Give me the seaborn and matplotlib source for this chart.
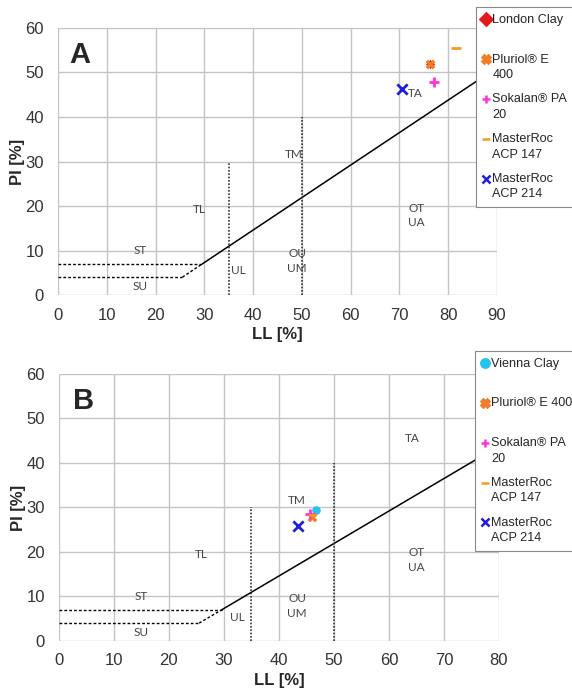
"""
Plasticity chart (Casagrande) - panels A (London Clay) and B (Vienna Clay)
"""

import matplotlib
matplotlib.use("Agg")
import matplotlib.pyplot as plt
import numpy as np
import pandas as pd
import seaborn as sns
from matplotlib.legend_handler import HandlerLine2D

# Panel A: London Clay + conditioners
A_LABELS = ["London Clay", "Pluriol® E\n400", "Sokalan® PA\n20", "MasterRoc\nACP 147", "MasterRoc\nACP 214"]
A_LL = [76.2, 76.3, 77.0, 81.5, 70.6]
A_PI = [52.0, 52.0, 47.9, 55.6, 46.3]

# Panel B: Vienna Clay + conditioners
B_LABELS = ["Vienna Clay", "Pluriol® E 400", "Sokalan® PA\n20", "MasterRoc\nACP 147", "MasterRoc\nACP 214"]
B_LL = [46.7, 46.0, 45.6, 46.0, 43.5]
B_PI = [29.4, 27.9, 28.5, 28.2, 25.8]

A_MARKERS = ["D", "X", "+", "_", "x"]
B_MARKERS = ["o", "X", "+", "_", "x"]
A_COLORS = ["#e31a1c", "#f07d28", "#ff33dd", "#f59a22", "#1f1fd8"]
B_COLORS = ["#22c4ee", "#f07d28", "#ff33dd", "#f59a22", "#1f1fd8"]
A_SIZES = [22, 50, 55, 60, 55]
B_SIZES = [38, 50, 55, 40, 55]

# boundary lines of the chart (ST/SU limits, LL limits)
HOR_PI = [7, 4]
HOR_LL_END = [29.6, 25.5]
VERT_LL = [35, 50]
VERT_PI_TOP = [30, 40]

# zone labels (LL, PI) per panel
ZONES = ["ST", "SU", "TL", "UL", "OU\nUM", "TM", "OT\nUA", "TA"]
A_ZONE_LL = [16.8, 16.8, 29.0, 37.0, 49.0, 48.3, 73.5, 73.3]
A_ZONE_PI = [10.1, 2.0, 19.3, 5.4, 7.6, 31.5, 17.9, 45.2]
B_ZONE_LL = [14.9, 14.9, 25.8, 32.4, 43.3, 43.3, 65.0, 64.2]
B_ZONE_PI = [9.9, 1.8, 19.5, 5.2, 7.9, 31.5, 18.2, 45.4]

LEG_FONT = 9.1


class FirstRowHandler(HandlerLine2D):
    """Puts the legend marker on the first row of a two-row label."""

    def create_artists(self, *args, **kwargs):
        artists = super().create_artists(*args, **kwargs)
        for a in artists:
            a.set_ydata(np.asarray(a.get_ydata()) + 0.66 * LEG_FONT)
        return artists


def a_line(ll):
    return 0.73 * (ll - 20)


def draw_panel(ax, fig, letter, labels, ll, pi, markers, colors, sizes, xmax, zone_ll, zone_pi, leg_box):
    df = pd.DataFrame({"LL": ll, "PI": pi, "Material": labels})

    # chart boundaries
    ax.plot([29.6, xmax], [a_line(29.6), a_line(xmax)], color="black", lw=1.1, zorder=2)
    ax.plot([25.5, 29.6], [a_line(25.5), a_line(29.6)], color="black", lw=1.0, ls=(0, (2, 1.5)), zorder=2)
    for y, x_end in zip(HOR_PI, HOR_LL_END):
        ax.plot([0, x_end], [y, y], color="black", lw=1.0, ls=(0, (2, 1.5)), zorder=2)
    for x, y_top in zip(VERT_LL, VERT_PI_TOP):
        ax.plot([x, x], [0, y_top], color="#333333", lw=1.2, ls=(0, (1, 1)), zorder=2)

    for z, zx, zy in zip(ZONES, zone_ll, zone_pi):
        ax.text(zx, zy, z, fontsize=8.5, family="Lato", color="#444444", ha="center",
                va="center", linespacing=1.4, zorder=3)

    # one call per material: filled and line markers can't share a style mapping
    for lab, m, c, s in zip(labels, markers, colors, sizes):
        sub = df[df["Material"] == lab]
        sns.scatterplot(data=sub, x="LL", y="PI", marker=m, color=c, s=s,
                        linewidth=2 if m in "+x_" else 0, edgecolor=c, ax=ax,
                        legend=False, zorder=4)

    ax.set_xlim(0, xmax)
    ax.set_ylim(0, 60)
    ax.set_xticks(range(0, xmax + 1, 10))
    ax.set_yticks(range(0, 61, 10))
    ax.grid(True, color="#c4c4c4", lw=1.0)
    ax.set_axisbelow(True)
    for s in ax.spines.values():
        s.set_visible(False)
    ax.tick_params(length=0, labelsize=12, labelcolor="#333333")
    ax.tick_params(axis="x", pad=9)
    ax.tick_params(axis="y", pad=10)
    ax.set_xlabel("LL [%]", fontsize=12, fontweight="bold", labelpad=3)
    ax.set_ylabel("PI [%]", fontsize=12, fontweight="bold", labelpad=0)
    ax.text(4.5, 54, letter, fontsize=21, fontweight="bold", ha="center", va="center")

    # legend: every entry takes two text rows, marker on the first row
    handles = [plt.Line2D([], [], ls="none", marker=m, color=c, markersize=6, markeredgewidth=1.8)
               for m, c in zip(markers, colors)]
    texts = [lab if "\n" in lab else lab + "\n " for lab in labels]
    leg = fig.legend(handles, texts, loc="upper left", bbox_to_anchor=leg_box, fontsize=LEG_FONT,
                     frameon=True, fancybox=False, edgecolor="#888888", framealpha=1,
                     handlelength=0.5, handletextpad=0.25, labelspacing=0.98,
                     borderpad=0.55, borderaxespad=0,
                     handler_map={plt.Line2D: FirstRowHandler()})
    for t in leg.get_texts():
        t.set_linespacing(1.38)
    leg.get_frame().set_linewidth(0.8)


sns.set_theme(style="white")
plt.rcParams["font.family"] = ["Liberation Sans", "DejaVu Sans"]

fig = plt.figure(figsize=(5.72, 6.89), dpi=100)
ax_a = fig.add_axes([0.1014, 0.5718, 0.7675, 0.3876])
ax_b = fig.add_axes([0.1030, 0.0697, 0.7692, 0.3875])

draw_panel(ax_a, fig, "A", A_LABELS, A_LL, A_PI, A_MARKERS, A_COLORS, A_SIZES, 90,
           A_ZONE_LL, A_ZONE_PI, (0.832, 0.990))
draw_panel(ax_b, fig, "B", B_LABELS, B_LL, B_PI, B_MARKERS, B_COLORS, B_SIZES, 80,
           B_ZONE_LL, B_ZONE_PI, (0.830, 0.491))

fig.savefig("out.png", dpi=100)
plt.close(fig)
